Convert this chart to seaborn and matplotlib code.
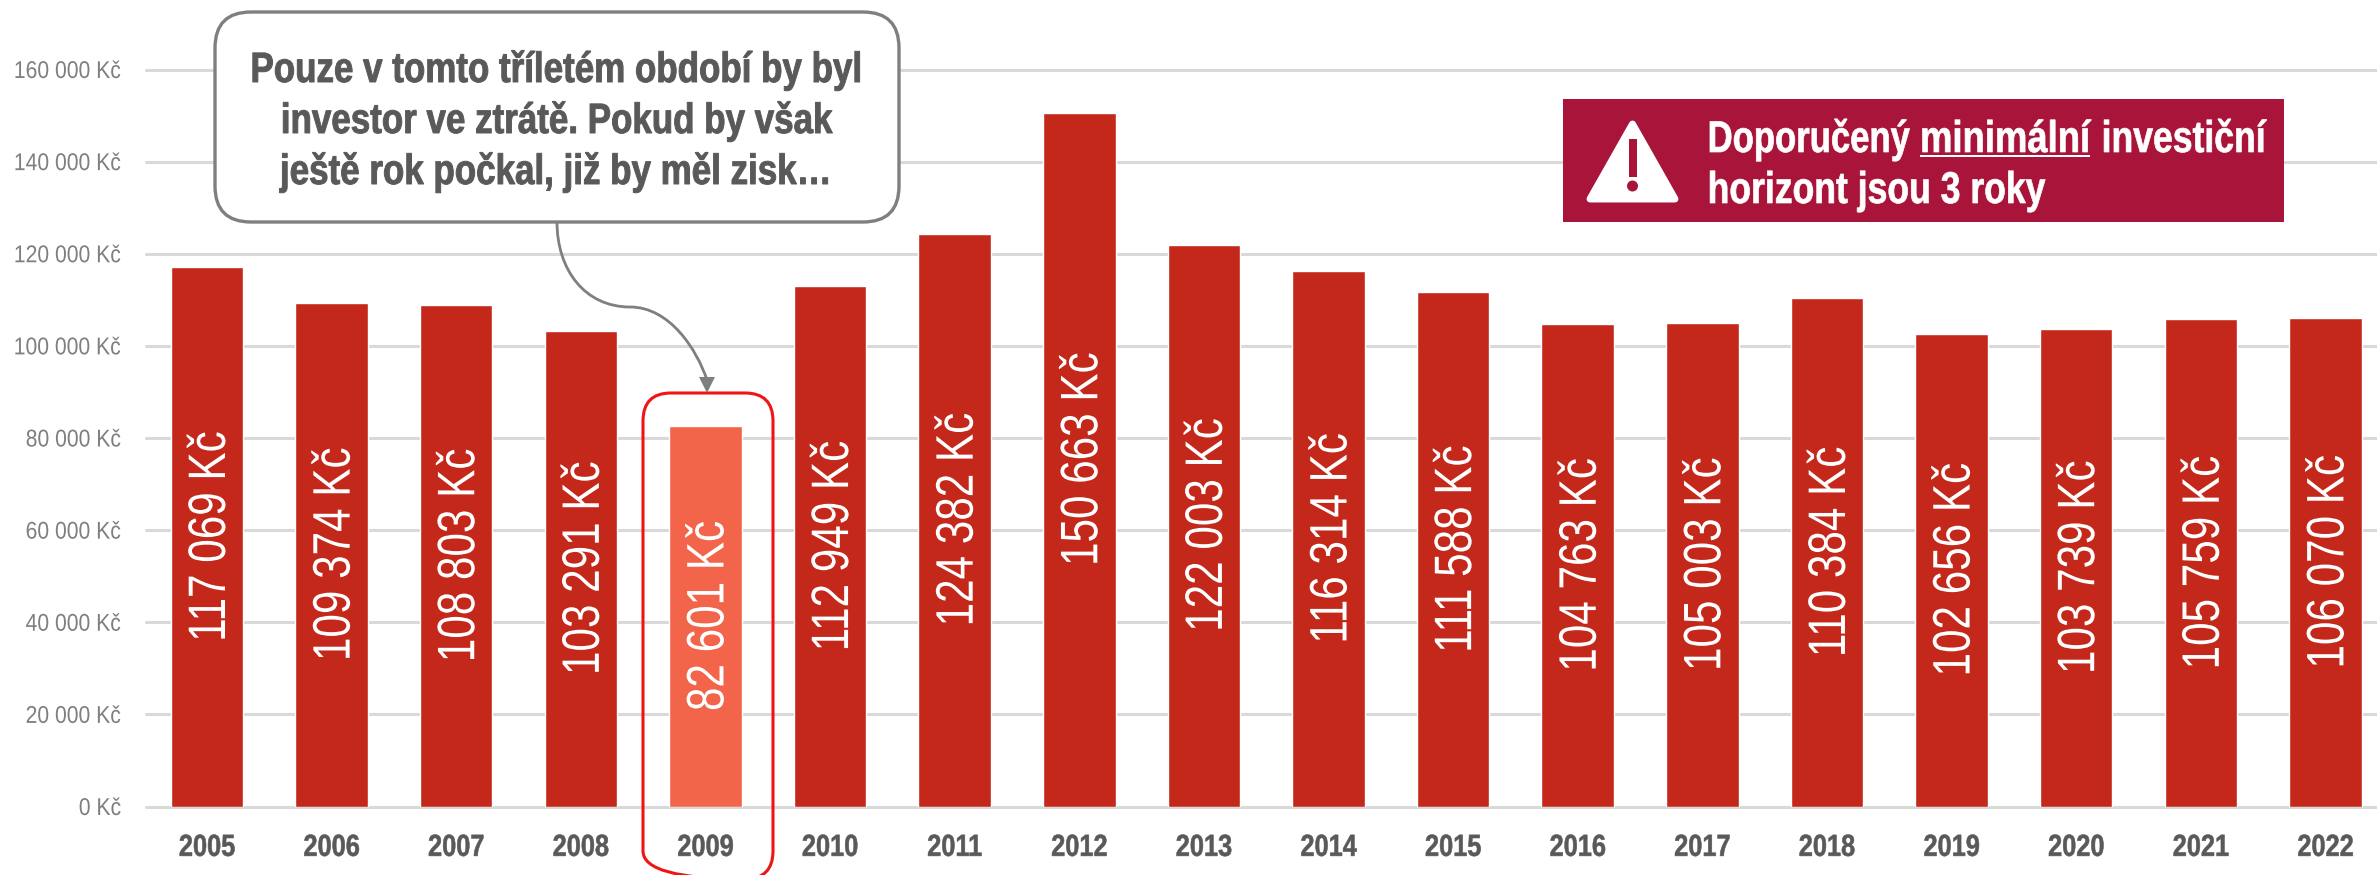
import matplotlib
matplotlib.use("Agg")
import matplotlib.pyplot as plt
from matplotlib.patches import FancyBboxPatch, PathPatch, Polygon, Rectangle, Circle
from matplotlib.patheffects import AbstractPathEffect
from matplotlib.path import Path
from matplotlib.text import Text
from matplotlib.transforms import Affine2D, Bbox
import pandas as pd
import seaborn as sns

years = ["2005", "2006", "2007", "2008", "2009", "2010", "2011", "2012", "2013",
         "2014", "2015", "2016", "2017", "2018", "2019", "2020", "2021", "2022"]
values = [117069, 109374, 108803, 103291, 82601, 112949, 124382, 150663, 122003,
          116314, 111588, 104763, 105003, 110384, 102656, 103739, 105759, 106070]
highlight_year = "2009"
y_ticks = [0, 20000, 40000, 60000, 80000, 100000, 120000, 140000, 160000]
callout_lines = ["Pouze v tomto tříletém období by byl",
                 "investor ve ztrátě. Pokud by však",
                 "ještě rok počkal, již by měl zisk…"]
notice_words = ["Doporučený", "minimální", "investiční"]
notice_second = "horizont jsou 3 roky"

BAR = "#C4281A"
BAR_HI = "#F2654B"
GRID = "#D9D9D9"
TICK = "#7F7F7F"
DARK = "#595959"
CRIMSON = "#A8143A"
W, H = 2377, 875


class Condense(AbstractPathEffect):
    """Squeeze glyph outlines along the text direction, since no condensed face is installed."""

    def __init__(self, factor, anchor=0.5, shift=(0, 0), stroke=0.0):
        super().__init__()
        self.factor = factor
        self.anchor = anchor
        self.shift = shift
        self.stroke = stroke

    def draw_path(self, renderer, gc, tpath, affine, rgbFace=None):
        box = tpath.get_extents()
        pivot = box.x0 + self.anchor * box.width
        local = Affine2D().translate(-pivot, 0).scale(self.factor, 1).translate(pivot, 0)
        full = local + affine + Affine2D().translate(*self.shift)
        pen = renderer.new_gc()
        pen.copy_properties(gc)
        if self.stroke:
            pen.set_linewidth(self.stroke)
            pen.set_foreground(rgbFace)
        renderer.draw_path(pen, tpath, full, rgbFace)
        pen.restore()


class CondensedWord(Text):
    """Left-anchored text whose reported extent follows the squeezed outline."""

    def __init__(self, *args, factor=1.0, **kwargs):
        super().__init__(*args, **kwargs)
        self.factor = factor
        self.set_path_effects([Condense(factor, anchor=0.0, stroke=0.5)])

    def get_window_extent(self, renderer=None, dpi=None):
        box = super().get_window_extent(renderer, dpi)
        return Bbox.from_extents(box.x0, box.y0, box.x0 + box.width * self.factor, box.y1)


sns.set_theme(style="white")
plt.rcParams["font.family"] = ["Liberation Sans", "DejaVu Sans"]

fig = plt.figure(figsize=(W / 100, H / 100), dpi=100, facecolor="white")
# axes span from the first gridline start to the right edge, zero line at y=806.5
ax = fig.add_axes([145.5 / W, 1 - 806.5 / H, 1 - 145.5 / W, 806.5 / H])

frame = pd.DataFrame({"rok": years, "hodnota": values})
colors = {y: (BAR_HI if y == highlight_year else BAR) for y in years}
sns.barplot(data=frame, x="rok", y="hodnota", hue="rok", palette=colors, dodge=False,
            width=0.582, saturation=1, legend=False, ax=ax, zorder=3)

per_unit = 737.0 / 160000
ax.set_ylim(0, 806.5 / per_unit)
ax.set_xlim(-0.4936, 17.414)
ax.set_xlabel("")
ax.set_ylabel("")
ax.set_yticks(y_ticks)
ax.set_yticklabels([f"{v:,}".replace(",", " ") + " Kč" for v in y_ticks],
                   fontsize=17.5, color=TICK)
ax.tick_params(axis="y", length=0, pad=17.5)
ax.tick_params(axis="x", length=0, pad=19)
for lab in ax.get_yticklabels():
    lab.set_path_effects([Condense(0.87, anchor=1.0)])
for lab in ax.get_xticklabels():
    lab.set_fontsize(22)
    lab.set_fontweight("bold")
    lab.set_color(DARK)
    lab.set_path_effects([Condense(0.83, stroke=0.4)])
sns.despine(ax=ax, left=True, bottom=True, top=True, right=True)
ax.grid(axis="y", color=GRID, linewidth=2.2, zorder=0)
ax.set_axisbelow(True)
for line in ax.get_ygridlines():
    line.set_clip_on(False)

for bars in ax.containers:
    for t in ax.bar_label(bars, labels=[f"{v:,.0f}".replace(",", " ") + " Kč" for v in bars.datavalues],
                          label_type="center", rotation=90, color="white", fontsize=38, zorder=5):
        t.set_path_effects([Condense(0.80, shift=(4, 0))])

# overlay elements are placed in pixel coordinates measured from the top left
px = Affine2D().scale(1 / W, -1 / H).translate(0, 1) + fig.transFigure

# rounded frame around the highlighted year, running off the bottom edge
fig.add_artist(FancyBboxPatch((643, 393), 130, 486, boxstyle="round,pad=0,rounding_size=28",
                              fc="none", ec="#F01414", lw=2.2, transform=px, zorder=6))

# connector from the callout to the frame
curve = Path([(557, 222), (557, 270), (585, 307), (630, 307),
              (670, 307), (697, 350), (707, 380)],
             [Path.MOVETO, Path.CURVE4, Path.CURVE4, Path.CURVE4,
              Path.CURVE4, Path.CURVE4, Path.CURVE4])
fig.add_artist(PathPatch(curve, fc="none", ec=TICK, lw=2.0, transform=px, zorder=6))
fig.add_artist(Polygon([(699, 377), (715, 377), (707, 393)], closed=True, fc=TICK, ec="none",
                       transform=px, zorder=6))

# callout
fig.add_artist(FancyBboxPatch((215, 12), 684, 210, boxstyle="round,pad=0,rounding_size=36",
                              fc="white", ec=TICK, lw=2.4, transform=px, zorder=7))
for text, base in zip(callout_lines, [82, 133, 184]):
    fig.text(557 / W, 1 - base / H, text, ha="center", va="baseline", fontsize=30.5,
             fontweight="bold", color=DARK, zorder=8, path_effects=[Condense(0.825, stroke=0.7)])

# notice banner
fig.add_artist(Rectangle((1563, 99), 721, 123, fc=CRIMSON, ec="none", transform=px, zorder=7))
fig.add_artist(Polygon([(1632.5, 124), (1675, 199), (1590, 199)], closed=True, fc="white", ec="white",
                       lw=5, joinstyle="round", transform=px, zorder=8))
fig.add_artist(Rectangle((1629, 139), 7.5, 38, fc=CRIMSON, ec="none", transform=px, zorder=9))
fig.add_artist(Circle((1632.5, 186), 5.5, fc=CRIMSON, ec="none", transform=px, zorder=9))

style = dict(fontsize=32, fontweight="bold", color="white", ha="left", va="baseline", zorder=9,
             transform=fig.transFigure)
renderer = fig.canvas.get_renderer()
word_left = [1707, 1919.5, 2101]
word_squeeze = [0.78, 0.82, 0.80]
placed = [fig.add_artist(CondensedWord(x / W, 1 - 152 / H, word, factor=f, **style))
          for x, word, f in zip(word_left, notice_words, word_squeeze)]
fig.add_artist(CondensedWord(1707 / W, 1 - 203 / H, notice_second, factor=0.80, **style))

# underline the middle word using its measured extent
underline_width = placed[1].get_window_extent(renderer).width
fig.add_artist(Rectangle((word_left[1], 154.5), underline_width, 2.4, fc="white", ec="none",
                         transform=px, zorder=9))

fig.savefig("out.png", dpi=100)
